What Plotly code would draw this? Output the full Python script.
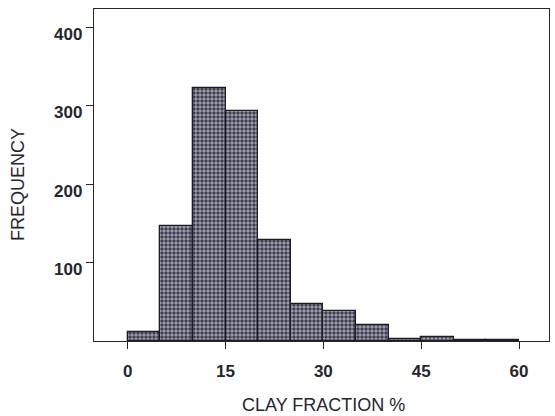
import plotly.graph_objects as go

# Histogram of clay fraction: 5 % wide classes
bin_left_edges = [0, 5, 10, 15, 20, 25, 30, 35, 40, 45, 50, 55]
bin_width = 5
frequency = [11, 147, 322, 293, 129, 47, 38, 20, 3, 5, 1, 1]

x_ticks = [0, 15, 30, 45, 60]
y_ticks = [100, 200, 300, 400]

centers = [e + bin_width / 2 for e in bin_left_edges]

ink = "#26262e"
tick_font = dict(family="Liberation Sans, Arial, sans-serif", size=17, color=ink)

# dense crosshatch: light holes on a dark mesh
fig = go.Figure(
    go.Bar(
        x=centers,
        y=frequency,
        width=[bin_width] * len(centers),
        marker=dict(
            color="#34344a",
            line=dict(color="#1c1c26", width=1.3),
            pattern=dict(shape=".", fgcolor="white", bgcolor="#34344a",
                         size=4, solidity=0.6),
        ),
        hoverinfo="skip",
    )
)

fig.update_layout(
    width=555,
    height=416,
    margin=dict(l=94, r=6, t=9, b=75),
    paper_bgcolor="white",
    plot_bgcolor="white",
    showlegend=False,
    bargap=0,
    xaxis=dict(
        range=[-5.17, 64.6],
        tickmode="array",
        tickvals=x_ticks,
        ticktext=[str(v) for v in x_ticks],
        ticks="outside",
        ticklen=7,
        tickwidth=1.3,
        tickcolor=ink,
        showline=True,
        linecolor=ink,
        linewidth=1.4,
        mirror=True,
        showgrid=False,
        zeroline=False,
        tickfont=dict(tick_font, weight="bold"),
        ticklabelstandoff=7,
    ),
    yaxis=dict(
        range=[0, 423],
        tickmode="array",
        tickvals=y_ticks,
        ticktext=[str(v) for v in y_ticks],
        ticks="outside",
        ticklen=7,
        tickwidth=1.3,
        tickcolor=ink,
        showline=True,
        linecolor=ink,
        linewidth=1.4,
        mirror=True,
        showgrid=False,
        zeroline=False,
        tickfont=dict(tick_font, weight="bold"),
        ticklabelshift=7,
        ticklabelstandoff=0,
    ),
    annotations=[
        dict(
            text="CLAY FRACTION %",
            xref="paper", yref="paper",
            x=0.505, y=-0.193,
            xanchor="center", yanchor="middle",
            showarrow=False,
            font=dict(family="Liberation Sans, Arial, sans-serif", size=18, color=ink),
        ),
        dict(
            text="FREQUENCY",
            xref="paper", yref="paper",
            x=-0.167, y=0.47,
            xanchor="center", yanchor="middle",
            textangle=-90,
            showarrow=False,
            font=dict(family="Liberation Sans, Arial, sans-serif", size=18, color=ink),
        ),
    ],
)

fig.write_html("out.html")
